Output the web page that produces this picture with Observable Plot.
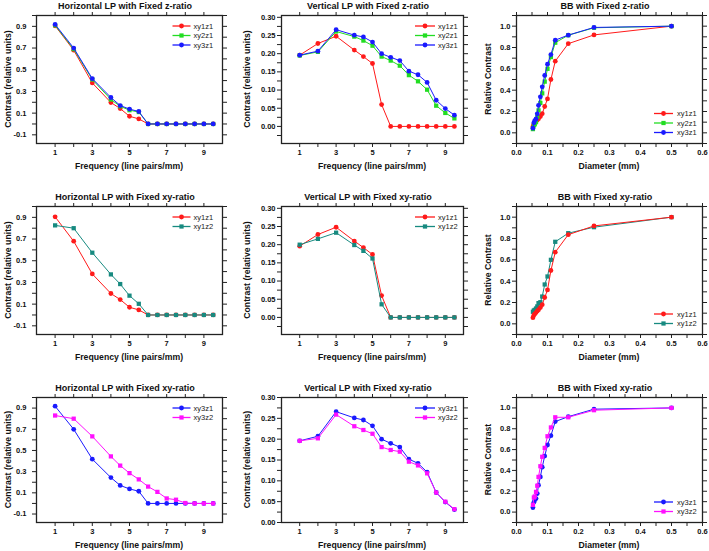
<!DOCTYPE html>
<html><head><meta charset="utf-8">
<script src="https://cdn.jsdelivr.net/npm/d3@7"></script>
<script src="https://cdn.jsdelivr.net/npm/@observablehq/plot@0.6"></script>
<style>
html,body{margin:0;padding:0;background:#fff;}
#root{position:relative;width:709px;height:551px;overflow:hidden;background:#fff;}
#root svg{position:absolute;overflow:visible;}
</style></head><body><div id="root"></div>
<script>
// ---------- data ----------
const freq = [1, 2, 3, 4, 4.5, 5, 5.5, 6, 6.5, 7, 7.5, 8, 8.5, 9, 9.5];
const diameter = [0.5, 0.25, 0.167, 0.125, 0.111, 0.1, 0.091, 0.083, 0.077, 0.071, 0.067, 0.063, 0.059, 0.056, 0.053];

// Horizontal LP contrast
const hXy1z1 = [0.905, 0.68, 0.378, 0.198, 0.142, 0.071, 0.047, 0, 0, 0, 0, 0, 0, 0, 0];
const hXy2z1 = [0.91, 0.69, 0.41, 0.226, 0.163, 0.127, 0.11, 0, 0, 0, 0, 0, 0, 0, 0];
const hXy3z1 = [0.918, 0.70, 0.418, 0.244, 0.17, 0.137, 0.115, 0, 0, 0, 0, 0, 0, 0, 0];
const hXy1z2 = [0.826, 0.80, 0.574, 0.374, 0.285, 0.178, 0.103, 0, 0, 0, 0, 0, 0, 0, 0];
const hXy3z2 = [0.83, 0.80, 0.633, 0.444, 0.357, 0.286, 0.227, 0.159, 0.109, 0.047, 0.035, 0.004, 0, 0, 0];

// Vertical LP contrast
const vXy1z1 = [0.196, 0.228, 0.248, 0.21, 0.192, 0.173, 0.06, 0, 0, 0, 0, 0, 0, 0, 0];
const vXy2z1 = [0.195, 0.205, 0.261, 0.247, 0.236, 0.222, 0.192, 0.181, 0.167, 0.141, 0.124, 0.101, 0.057, 0.037, 0.022];
const vXy3z1 = [0.196, 0.207, 0.266, 0.251, 0.246, 0.232, 0.2, 0.19, 0.181, 0.152, 0.142, 0.121, 0.072, 0.049, 0.031];
const vXy1z2 = [0.20, 0.216, 0.233, 0.199, 0.183, 0.162, 0.036, 0, 0, 0, 0, 0, 0, 0, 0];
const vXy3z2 = [0.196, 0.202, 0.259, 0.231, 0.222, 0.213, 0.181, 0.174, 0.17, 0.146, 0.137, 0.118, 0.072, 0.05, 0.032];

// BB relative contrast (same order as diameter)
const bXy1z1 = [1.0, 0.918, 0.836, 0.672, 0.5, 0.318, 0.247, 0.18, 0.153, 0.132, 0.12, 0.106, 0.094, 0.081, 0.058];
const bXy2z1 = [1.0, 0.985, 0.915, 0.845, 0.71, 0.60, 0.48, 0.37, 0.28, 0.21, 0.15, 0.10, 0.08, 0.07, 0.035];
const bXy3z1 = [1.0, 0.988, 0.916, 0.869, 0.734, 0.644, 0.538, 0.431, 0.338, 0.258, 0.178, 0.13, 0.115, 0.094, 0.044];
const bXy1z2 = [1.0, 0.906, 0.85, 0.769, 0.6, 0.444, 0.369, 0.256, 0.203, 0.194, 0.163, 0.144, 0.131, 0.125, 0.113];
const bXy3z2 = [1.0, 0.978, 0.91, 0.91, 0.8125, 0.728, 0.616, 0.531, 0.44, 0.338, 0.253, 0.194, 0.15, 0.14, 0.069];

// ticks
const freqTicks = [1, 2, 3, 4, 5, 6, 7, 8, 9];
const freqTickLabels = [1, 3, 5, 7, 9];
const hTicks = [-0.1, 0, 0.1, 0.2, 0.3, 0.4, 0.5, 0.6, 0.7, 0.8, 0.9, 1.0];
const hTickLabels = [-0.1, 0.1, 0.3, 0.5, 0.7, 0.9];
const vTicks = [-0.025, 0, 0.025, 0.05, 0.075, 0.1, 0.125, 0.15, 0.175, 0.2, 0.225, 0.25, 0.275, 0.3];
const vTickLabels = [0, 0.05, 0.1, 0.15, 0.2, 0.25, 0.3];
const dTicks = [0, 0.05, 0.1, 0.15, 0.2, 0.25, 0.3, 0.35, 0.4, 0.45, 0.5, 0.55, 0.6];
const dTickLabels = [0, 0.1, 0.2, 0.3, 0.4, 0.5, 0.6];
const bTicks = [-0.1, 0, 0.1, 0.2, 0.3, 0.4, 0.5, 0.6, 0.7, 0.8, 0.9, 1.0, 1.1];
const bTickLabels = [0, 0.2, 0.4, 0.6, 0.8, 1.0];

const titles = [
  ["Horizontal LP with Fixed z-ratio", "Vertical LP with Fixed z-ratio", "BB with Fixed z-ratio"],
  ["Horizontal LP with Fixed xy-ratio", "Vertical LP with Fixed xy-ratio", "BB with Fixed xy-ratio"],
  ["Horizontal LP with Fixed xy-ratio", "Vertical LP with Fixed xy-ratio", "BB with Fixed xy-ratio"]
];
const xTitles = ["Frequency (line pairs/mm)", "Frequency (line pairs/mm)", "Diameter (mm)"];
const yTitles = ["Contrast (relative units)", "Contrast (relative units)", "Relative Contrast"];

const COLORS = {xy1z1: "#ff1a1a", xy2z1: "#22dd22", xy3z1: "#1a1aff", xy1z2: "#178a80", xy3z2: "#ff10ff"};
const SYMBOLS = {xy1z1: "circle", xy2z1: "square", xy3z1: "circle", xy1z2: "square", xy3z2: "square"};

// ---------- layout ----------
const FONT = '"Liberation Sans", Arial, Helvetica, sans-serif';
const cols = [
  {fl: 35.5, fw: 186, ml: 40, yPad: 6, yTitleOff: 28.5, legX: [49.5, 31.5, 28.5]},
  {fl: 281, fw: 182, ml: 50, yPad: 2, yTitleOff: 34, legX: [48, 28, 25]},
  {fl: 516, fw: 186, ml: 50, yPad: 2, yTitleOff: 28, legX: [48, 29, 25]}
];
const rows = [
  {ft: 14.5, fh: 128},
  {ft: 205.5, fh: 128},
  {ft: 396.5, fh: 125}
];

const panels = [
  [
    {x: freq, xd: [0, 10], yd: [-0.18, 1.0], xt: freqTicks, xl: freqTickLabels, xdec: 0, yt: hTicks, yl: hTickLabels, ydec: 1, legend: "top",
     series: [["xy1z1", hXy1z1], ["xy2z1", hXy2z1], ["xy3z1", hXy3z1]]},
    {x: freq, xd: [0, 10], yd: [-0.047, 0.305], xt: freqTicks, xl: freqTickLabels, xdec: 0, yt: vTicks, yl: vTickLabels, ydec: 2, legend: "top",
     series: [["xy1z1", vXy1z1], ["xy2z1", vXy2z1], ["xy3z1", vXy3z1]]},
    {x: diameter, xd: [0, 0.6], yd: [-0.1, 1.1], xt: dTicks, xl: dTickLabels, xdec: 1, yt: bTicks, yl: bTickLabels, ydec: 1, legend: "bottom",
     series: [["xy1z1", bXy1z1], ["xy2z1", bXy2z1], ["xy3z1", bXy3z1]]}
  ],
  [
    {x: freq, xd: [0, 10], yd: [-0.18, 1.0], xt: freqTicks, xl: freqTickLabels, xdec: 0, yt: hTicks, yl: hTickLabels, ydec: 1, legend: "top",
     series: [["xy1z1", hXy1z1], ["xy1z2", hXy1z2]]},
    {x: freq, xd: [0, 10], yd: [-0.047, 0.305], xt: freqTicks, xl: freqTickLabels, xdec: 0, yt: vTicks, yl: vTickLabels, ydec: 2, legend: "top",
     series: [["xy1z1", vXy1z1], ["xy1z2", vXy1z2]]},
    {x: diameter, xd: [0, 0.6], yd: [-0.1, 1.1], xt: dTicks, xl: dTickLabels, xdec: 1, yt: bTicks, yl: bTickLabels, ydec: 1, legend: "bottom",
     series: [["xy1z2", bXy1z2], ["xy1z1", bXy1z1]], legendOrder: ["xy1z1", "xy1z2"]}
  ],
  [
    {x: freq, xd: [0, 10], yd: [-0.18, 1.0], xt: freqTicks, xl: freqTickLabels, xdec: 0, yt: hTicks, yl: hTickLabels, ydec: 1, legend: "top",
     series: [["xy3z1", hXy3z1], ["xy3z2", hXy3z2]]},
    {x: freq, xd: [0, 10], yd: [0, 0.30], xt: freqTicks, xl: freqTickLabels, xdec: 0, yt: vTicks, yl: vTickLabels, ydec: 2, legend: "top",
     series: [["xy3z1", vXy3z1], ["xy3z2", vXy3z2]]},
    {x: diameter, xd: [0, 0.6], yd: [-0.1, 1.1], xt: dTicks, xl: dTickLabels, xdec: 1, yt: bTicks, yl: bTickLabels, ydec: 1, legend: "bottom",
     series: [["xy3z1", bXy3z1], ["xy3z2", bXy3z2]]}
  ]
];

const root = document.getElementById("root");
const inDom = (d, [a, b]) => d >= Math.min(a, b) - 1e-9 && d <= Math.max(a, b) + 1e-9;
const fmt = (labels, dec) => d => labels.some(l => Math.abs(l - d) < 1e-9) ? d.toFixed(dec) : "";
const R = 2.4;

panels.forEach((rowPanels, ri) => {
  rowPanels.forEach((p, ci) => {
    const c = cols[ci], r = rows[ri];
    const ml = c.ml, mt = 24, mr = 12, mb = 34;
    const W = ml + c.fw + mr, H = mt + r.fh + mb;
    const xt = p.xt.filter(t => inDom(t, p.xd));
    const yt = p.yt.filter(t => inDom(t, p.yd));
    const tickStyle = {stroke: "#222", strokeWidth: 1, tickSize: 4, label: null};
    const marks = [
      Plot.axisX({...tickStyle, ticks: xt, anchor: "bottom", tickPadding: 2, tickFormat: fmt(p.xl, p.xdec)}),
      Plot.axisX({...tickStyle, ticks: xt, anchor: "top", tickFormat: () => ""}),
      Plot.axisY({...tickStyle, ticks: yt, anchor: "left", tickPadding: c.yPad, tickFormat: fmt(p.yl, p.ydec)}),
      Plot.axisY({...tickStyle, ticks: yt, anchor: "right", tickFormat: () => ""})
    ];
    p.series.forEach(([name, vals]) => {
      const recs = p.x.map((x, i) => ({x, y: vals[i]}));
      marks.push(Plot.line(recs, {x: "x", y: "y", stroke: COLORS[name], strokeWidth: 1}));
      marks.push(Plot.dot(recs, {x: "x", y: "y", r: R, fill: COLORS[name], stroke: "none", symbol: SYMBOLS[name]}));
    });
    marks.push(Plot.frame({stroke: "#222", strokeWidth: 1.3}));

    const el = Plot.plot({
      width: W, height: H, marginLeft: ml, marginRight: mr, marginTop: mt, marginBottom: mb,
      x: {domain: p.xd, label: null},
      y: {domain: p.yd, label: null},
      style: {background: "none", fontFamily: FONT, fontSize: "7.5px", fontWeight: "bold", color: "#111", overflow: "visible", maxWidth: "none"},
      marks
    });
    el.style.position = "absolute";
    el.style.left = (c.fl - ml) + "px";
    el.style.top = (r.ft - mt) + "px";
    root.appendChild(el);

    const svg = d3.select(el);
    // title
    svg.append("text")
      .attr("x", ml + c.fw / 2 - 4).attr("y", mt - 6)
      .attr("text-anchor", "middle").attr("font-size", 9).attr("font-weight", "bold")
      .attr("font-family", FONT).attr("fill", "#111").text(titles[ri][ci]);
    // x title
    svg.append("text")
      .attr("x", ml + c.fw / 2).attr("y", mt + r.fh + 25.5)
      .attr("text-anchor", "middle").attr("font-size", 8.7).attr("font-weight", "bold")
      .attr("font-family", FONT).attr("fill", "#111").text(xTitles[ci]);
    // y title
    svg.append("text")
      .attr("transform", `translate(${ml - c.yTitleOff},${mt + r.fh / 2}) rotate(-90)`)
      .attr("dy", "0.35em")
      .attr("text-anchor", "middle").attr("font-size", 8.7).attr("font-weight", "bold")
      .attr("font-family", FONT).attr("fill", "#111").text(yTitles[ci]);
    // legend
    const order = p.legendOrder || p.series.map(s => s[0]);
    const n = order.length;
    const g = svg.append("g").attr("font-family", FONT).attr("font-size", 7.5)
      .attr("font-weight", "normal").attr("text-anchor", "start");
    order.forEach((name, i) => {
      const y = p.legend === "top" ? mt + 11 + i * 9.5 : mt + r.fh - 10.5 - (n - 1 - i) * 9.5;
      const x1 = ml + c.fw - c.legX[0], x2 = ml + c.fw - c.legX[1];
      g.append("line").attr("x1", x1).attr("x2", x2).attr("y1", y).attr("y2", y)
        .attr("stroke", COLORS[name]).attr("stroke-width", 1.3);
      const sym = SYMBOLS[name] === "square" ? d3.symbolSquare : d3.symbolCircle;
      g.append("path").attr("d", d3.symbol(sym, Math.PI * R * R)())
        .attr("transform", `translate(${(x1 + x2) / 2},${y})`).attr("fill", COLORS[name]);
      g.append("text").attr("x", ml + c.fw - c.legX[2]).attr("y", y).attr("dy", "0.35em")
        .attr("text-anchor", "start").attr("fill", "#222").text(name);
    });
  });
});
</script>
</body></html>
